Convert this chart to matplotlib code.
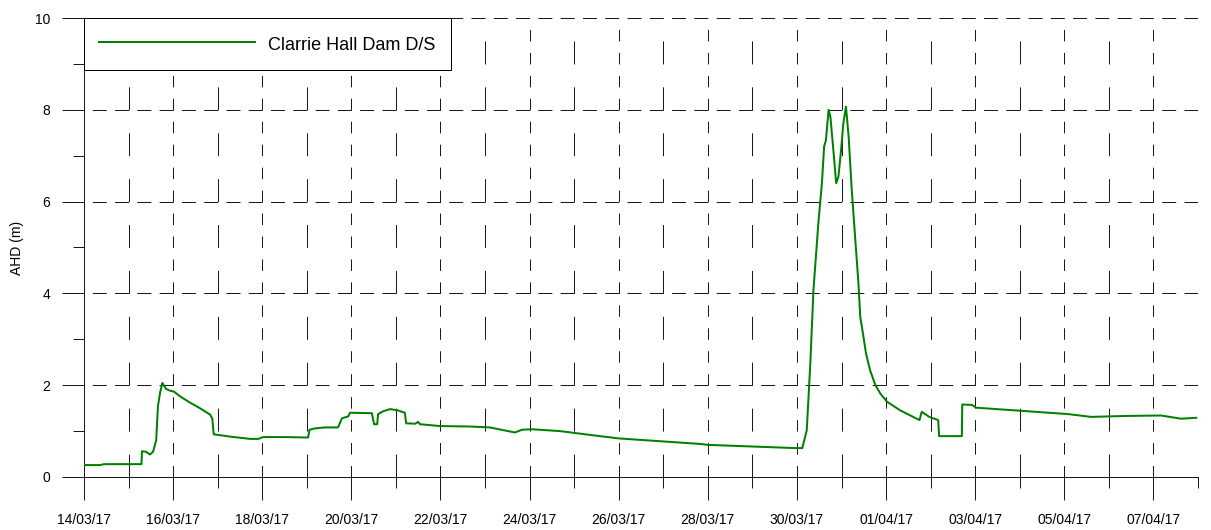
import matplotlib
matplotlib.use("Agg")
import matplotlib.pyplot as plt
import matplotlib.dates as mdates
import pandas as pd
import numpy as np

plt.rcParams['font.family'] = ['Liberation Sans', 'DejaVu Sans']
plt.rcParams['lines.scale_dashes'] = False

# ---- data ----
series_name = "Clarrie Hall Dam D/S"
y_label = "AHD (m)"
start_date = "2017-03-14 00:00"
end_date = "2017-04-08 00:00"
# days elapsed since 14/03/17 00:00
days = [0.00, 0.36, 0.45, 1.26, 1.29, 1.30, 1.39, 1.48, 1.55, 1.62, 1.66, 1.71,
        1.76, 1.84, 1.93, 2.02, 2.15, 2.38, 2.60, 2.83, 2.88, 2.91, 3.28, 3.73,
        3.91, 4.02, 4.51, 5.03, 5.06, 5.19, 5.41, 5.70, 5.79, 5.93, 5.97, 6.46,
        6.51, 6.58, 6.60, 6.71, 6.87, 7.05, 7.20, 7.23, 7.43, 7.50, 7.54, 7.99,
        8.66, 9.11, 9.67, 9.83, 10.06, 10.68, 11.58, 12.01, 13.83, 14.00, 15.96,
        16.12, 16.22, 16.30, 16.37, 16.48, 16.56, 16.61, 16.65, 16.71, 16.75,
        16.81, 16.88, 16.93, 16.99, 17.04, 17.10, 17.16, 17.23, 17.31, 17.38,
        17.42, 17.48, 17.55, 17.64, 17.76, 17.87, 18.02, 18.32, 18.75, 18.80,
        18.97, 19.17, 19.19, 19.70, 19.71, 19.93, 20.02, 21.21, 22.09, 22.60,
        23.39, 24.17, 24.62, 24.96]
level = [0.26, 0.26, 0.28, 0.28, 0.28, 0.56, 0.55, 0.49, 0.55, 0.80, 1.55, 1.85,
         2.05, 1.92, 1.88, 1.86, 1.76, 1.62, 1.50, 1.36, 1.27, 0.93, 0.88, 0.83,
         0.83, 0.87, 0.87, 0.86, 1.03, 1.06, 1.08, 1.08, 1.28, 1.32, 1.40, 1.39,
         1.15, 1.15, 1.37, 1.43, 1.48, 1.45, 1.40, 1.17, 1.16, 1.20, 1.15, 1.11,
         1.10, 1.08, 0.97, 1.03, 1.04, 1.00, 0.89, 0.84, 0.72, 0.70, 0.63,
         0.63, 1.02, 2.48, 4.07, 5.53, 6.40, 7.20, 7.34, 8.00, 7.85,
         7.20, 6.40, 6.54, 7.12, 7.70, 8.07, 7.41, 6.25, 5.16, 4.22,
         3.49, 3.13, 2.69, 2.33, 2.00, 1.82, 1.64, 1.45, 1.24, 1.42,
         1.31, 1.24, 0.89, 0.89, 1.58, 1.57, 1.51, 1.43, 1.37, 1.31,
         1.33, 1.34, 1.27, 1.29]
y_major = [0, 2, 4, 6, 8, 10]
y_minor = [1, 3, 5, 7, 9]

# ---- figure ----
PX = 0.72  # points per pixel at dpi 100
fig = plt.figure(figsize=(12.11, 5.30), dpi=100)
ax = fig.add_axes([84/1211, 1 - 477/530, (1198-84)/1211, (477-18)/530])

t0 = pd.Timestamp(start_date)
t1 = pd.Timestamp(end_date)
times = t0 + pd.to_timedelta(days, unit='D')

major_days = pd.date_range(t0, t1, freq='2D')
minor_days = pd.date_range(t0 + pd.Timedelta(days=1), t1, freq='2D')

gcol = '#1a1a1a'
# vertical grid lines
for d in major_days:
    ax.axvline(d, color=gcol, lw=1*PX, linestyle=(0, (11.5*PX, 11.45*PX)), zorder=1)
for d in minor_days:
    ax.axvline(d, color=gcol, lw=1*PX, linestyle=(0, (22.95*PX, 22.95*PX)), zorder=1)
# horizontal grid lines
for v in y_major[1:]:
    ax.axhline(v, color=gcol, lw=1*PX, linestyle=(14*PX, (14*PX, 8.28*PX)), zorder=1)

ax.plot(times, level, color='#008000', lw=2*PX, label=series_name, zorder=3)

ax.set_xlim(t0, t1)
ax.set_ylim(0, 10)
ax.set_xticks(list(major_days))
ax.set_xticks(list(minor_days), minor=True)
ax.xaxis.set_major_formatter(mdates.DateFormatter('%d/%m/%y'))
ax.set_yticks(y_major)
ax.set_yticks(y_minor, minor=True)
ax.set_yticklabels([str(v) for v in y_major])

ax.tick_params(axis='x', which='major', length=23*PX, width=1*PX, pad=9.5, labelsize=10, color=gcol)
ax.tick_params(axis='x', which='minor', length=11*PX, width=1*PX, color=gcol)
ax.tick_params(axis='y', which='major', length=22*PX, width=1*PX, pad=8.5, labelsize=10, color=gcol)
ax.tick_params(axis='y', which='minor', length=11*PX, width=1*PX, color=gcol)

for s in ['top', 'right']:
    ax.spines[s].set_visible(False)
for s in ['left', 'bottom']:
    ax.spines[s].set_linewidth(1*PX)
    ax.spines[s].set_color(gcol)

ax.set_ylabel(y_label, fontsize=10)
ax.yaxis.set_label_coords((24-84)/1114, 0.5)

leg = ax.legend(loc='upper left', bbox_to_anchor=(0, 1), borderaxespad=0,
                fontsize=13, handlelength=8.6, handletextpad=0.75, handleheight=1.45,
                borderpad=0.85, fancybox=False, framealpha=1, edgecolor='black')
leg.get_frame().set_linewidth(1*PX)
leg.set_zorder(5)

fig.savefig('out.png', dpi=100)
